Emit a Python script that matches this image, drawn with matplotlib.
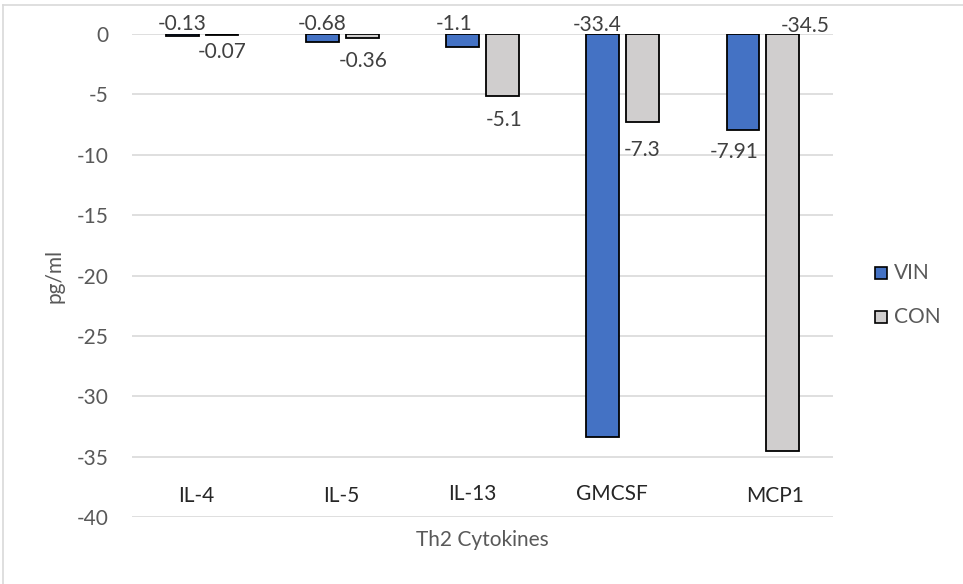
import matplotlib.pyplot as plt
import numpy as np
from matplotlib.lines import Line2D

plt.rcParams["font.family"] = ["Lato", "DejaVu Sans"]

categories = ["IL-4", "IL-5", "IL-13", "GMCSF", "MCP1"]
vin = [-0.13, -0.68, -1.1, -33.4, -7.91]
con = [-0.07, -0.36, -5.1, -7.3, -34.5]
y_ticks = [0, -5, -10, -15, -20, -25, -30, -35, -40]

# hand-placed label spots (x shift from bar centre, y in data units)
vin_label_pos = [(0.0, 0.83), (0.0, 0.83), (-0.06, 0.83), (-0.04, 0.75), (-0.06, -9.77)]
con_label_pos = [(0.0, -1.49), (0.01, -2.24), (0.01, -7.12), (0.0, -9.61), (0.16, 0.66)]
cat_label_pos = [(-0.04, -38.3), (0.99, -38.3), (1.93, -38.1), (2.92, -38.1), (4.09, -38.3)]

BLUE = "#4472C4"
GREY = "#D0CECE"
TXT = "#595959"
FS = 15

fig = plt.figure(figsize=(9.63, 5.84), dpi=100)
W, H = 963, 584
ax = fig.add_axes([132 / W, 1 - 517 / H, (833 - 132) / W, (517 - 34) / H])

x = np.arange(len(categories))
bw = 0.235
off = 0.142
ax.bar(x - off, vin, bw, color=BLUE, edgecolor="black", linewidth=1.3, zorder=3)
ax.bar(x + off, con, bw, color=GREY, edgecolor="black", linewidth=1.3, zorder=3)

for i, v in enumerate(vin):
    dx, ly = vin_label_pos[i]
    ax.text(x[i] - off + dx, ly, f"{v:g}", ha="center", va="center",
            fontsize=FS, color="#404040", zorder=4)
for i, v in enumerate(con):
    dx, ly = con_label_pos[i]
    ax.text(x[i] + off + dx, ly, f"{v:g}", ha="center", va="center",
            fontsize=FS, color="#404040", zorder=4)

for name, (cx, cy) in zip(categories, cat_label_pos):
    ax.text(cx, cy, name, ha="center", va="center", fontsize=FS, color="#262626")

ax.set_xlim(-0.5, len(categories) - 0.5)
ax.set_ylim(-40, 0)
ax.set_yticks(y_ticks)
ax.set_yticklabels([str(t) for t in y_ticks])
ax.set_xticks([])
ax.tick_params(axis="y", length=0, pad=17, labelsize=FS, labelcolor=TXT)
ax.grid(axis="y", color="#D9D9D9", linewidth=1.2, zorder=0)
ax.set_axisbelow(True)
for s in ax.spines.values():
    s.set_visible(False)

fig.text(55 / W, 1 - 276 / H, "pg/ml", rotation=90, ha="center", va="center",
         fontsize=FS, color=TXT)
fig.text(482 / W, 1 - 540 / H, "Th2 Cytokines", ha="center", va="center",
         fontsize=FS, color=TXT)

# legend
for label, col, yy in [("VIN", BLUE, 273), ("CON", GREY, 317)]:
    fig.patches.append(plt.Rectangle((875 / W, 1 - (yy + 6) / H), 12 / W, 12 / H,
                                     transform=fig.transFigure, facecolor=col,
                                     edgecolor="black", linewidth=1.2))
    fig.text(894 / W, 1 - yy / H, label, ha="left", va="center",
             fontsize=FS, color=TXT)

# chart area frame (top and left edges)
fig.add_artist(Line2D([3 / W, 1], [1 - 5 / H, 1 - 5 / H], color="#D9D9D9", linewidth=1.2))
fig.add_artist(Line2D([3 / W, 3 / W], [0, 1 - 5 / H], color="#D9D9D9", linewidth=1.2))

fig.savefig("out.png", dpi=100)
